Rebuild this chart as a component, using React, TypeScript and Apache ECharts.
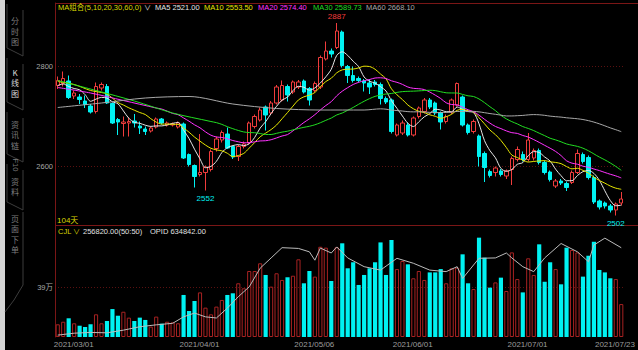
import React, { useEffect, useRef } from "react";
import * as echarts from "echarts";

// ---------- categories (trading days) ----------
const MONTH_DAYS: [string, number[]][] = [
  ["03", [1, 2, 3, 4, 5, 8, 9, 10, 11, 12, 15, 16, 17, 18, 19, 22, 23, 24, 25, 26, 29, 30, 31]],
  ["04", [1, 2, 6, 7, 8, 9, 12, 13, 14, 15, 16, 19, 20, 21, 22, 23, 26, 27, 28, 29, 30]],
  ["05", [6, 7, 10, 11, 12, 13, 14, 17, 18, 19, 20, 21, 24, 25, 26, 27, 28, 31]],
  ["06", [1, 2, 3, 4, 7, 8, 9, 10, 11, 15, 16, 17, 18, 21, 22, 23, 24, 25, 28, 29, 30]],
  ["07", [1, 2, 5, 6, 7, 8, 9, 12, 13, 14, 15, 16, 19, 20, 21, 22, 23, 26, 27, 28, 29]],
];
const DATES: string[] = MONTH_DAYS.flatMap(([m, days]) =>
  days.map((d) => `2021/${m}/${String(d).padStart(2, "0")}`)
);
const DATE_TICKS = ["2021/03/01", "2021/04/01", "2021/05/06", "2021/06/01", "2021/07/01", "2021/07/23"];
const PRICE_TICKS = [2600, 2800];
const VOL_TICKS = [390000];
const VOL_TICK_LABEL = "39万";

// ---------- candles: [open, close, low, high] ----------
const CANDLES: number[][] = [
  [2762, 2772, 2755, 2780], [2766, 2776, 2760, 2790], [2771, 2738, 2735, 2782], [2741, 2747, 2735, 2752],
  [2739, 2734, 2725, 2745], [2731, 2724, 2717, 2742], [2721, 2709, 2706, 2725], [2710, 2760, 2706, 2768],
  [2757, 2764, 2752, 2768], [2760, 2727, 2725, 2765], [2726, 2687, 2685, 2728], [2694, 2689, 2663, 2697],
  [2686, 2689, 2660, 2700], [2687, 2690, 2660, 2698], [2691, 2687, 2678, 2705], [2681, 2677, 2665, 2690],
  [2675, 2670, 2663, 2680], [2671, 2677, 2668, 2680], [2679, 2695, 2676, 2698], [2695, 2687, 2684, 2697],
  [2683, 2687, 2680, 2690], [2683, 2685, 2680, 2688], [2679, 2687, 2676, 2690], [2685, 2617, 2615, 2688],
  [2624, 2604, 2600, 2626], [2602, 2580, 2558, 2604], [2584, 2588, 2580, 2665], [2588, 2599, 2552, 2602],
  [2594, 2630, 2590, 2634], [2636, 2655, 2630, 2660], [2653, 2668, 2648, 2672], [2665, 2637, 2635, 2678],
  [2640, 2619, 2615, 2642], [2620, 2640, 2611, 2643], [2640, 2645, 2636, 2650], [2647, 2687, 2644, 2690],
  [2680, 2700, 2676, 2704], [2693, 2713, 2690, 2718], [2719, 2703, 2672, 2722], [2707, 2727, 2703, 2731],
  [2727, 2759, 2724, 2763], [2733, 2762, 2730, 2772], [2760, 2743, 2730, 2764], [2749, 2769, 2745, 2772],
  [2759, 2769, 2755, 2773], [2771, 2749, 2746, 2774], [2756, 2733, 2722, 2759], [2752, 2766, 2748, 2770],
  [2759, 2818, 2755, 2822], [2815, 2831, 2812, 2850], [2831, 2825, 2818, 2836], [2838, 2871, 2835, 2887],
  [2869, 2802, 2798, 2872], [2800, 2782, 2767, 2803], [2782, 2772, 2768, 2800], [2776, 2772, 2768, 2780],
  [2771, 2767, 2750, 2775], [2767, 2759, 2745, 2775], [2769, 2764, 2760, 2773], [2764, 2736, 2724, 2768],
  [2736, 2729, 2725, 2740], [2733, 2670, 2666, 2736], [2663, 2683, 2660, 2686], [2667, 2687, 2663, 2692],
  [2683, 2663, 2660, 2688], [2663, 2697, 2660, 2700], [2700, 2717, 2696, 2720], [2710, 2733, 2706, 2737],
  [2733, 2719, 2715, 2737], [2727, 2707, 2703, 2730], [2707, 2689, 2674, 2710], [2690, 2700, 2686, 2704],
  [2709, 2733, 2705, 2736], [2723, 2766, 2720, 2768], [2739, 2683, 2680, 2742], [2683, 2668, 2664, 2686],
  [2670, 2690, 2666, 2694], [2661, 2620, 2600, 2664], [2626, 2598, 2569, 2630], [2590, 2582, 2578, 2594],
  [2588, 2597, 2580, 2600], [2591, 2584, 2580, 2595], [2581, 2591, 2575, 2594], [2594, 2616, 2563, 2620],
  [2614, 2634, 2610, 2640], [2624, 2614, 2610, 2630], [2614, 2653, 2610, 2667], [2617, 2632, 2612, 2636],
  [2632, 2608, 2604, 2636], [2608, 2588, 2584, 2612], [2589, 2574, 2570, 2592], [2561, 2571, 2557, 2575],
  [2571, 2567, 2563, 2575], [2566, 2558, 2551, 2570], [2568, 2588, 2565, 2592], [2588, 2626, 2585, 2634],
  [2624, 2610, 2606, 2628], [2618, 2578, 2574, 2622], [2578, 2529, 2525, 2582], [2531, 2519, 2514, 2534],
  [2527, 2521, 2516, 2530], [2521, 2513, 2508, 2525], [2513, 2525, 2502, 2528], [2527, 2535, 2522, 2549],
];

// ---------- volume (CJL) ----------
const VOLUME: number[] = [
  99000, 119000, 146000, 107000, 88000, 78000, 99000, 177000, 107000, 125000,
  218000, 166000, 197000, 151000, 125000, 151000, 133000, 81000, 159000, 104000,
  119000, 114000, 107000, 328000, 203000, 281000, 348000, 229000, 177000, 237000,
  289000, 328000, 341000, 419000, 380000, 515000, 515000, 575000, 484000, 393000,
  497000, 445000, 466000, 478000, 606000, 419000, 515000, 471000, 704000, 697000,
  437000, 700000, 731000, 536000, 583000, 406000, 484000, 536000, 583000, 738000,
  484000, 757000, 530000, 593000, 567000, 458000, 515000, 445000, 504000, 504000,
  530000, 419000, 536000, 541000, 645000, 419000, 374000, 775000, 619000, 385000,
  426000, 463000, 359000, 660000, 452000, 348000, 614000, 484000, 723000, 431000,
  583000, 530000, 411000, 697000, 679000, 660000, 471000, 634000, 743000, 523000,
  504000, 458000, 452000, 256820,
];

// ---------- open interest (OPID), read at sampled days ----------
const OPID_POINTS: number[][] = [
  [0, 405000], [3, 410000], [6, 412000], [9, 411000], [12, 418000], [15, 427000], [18, 432000],
  [21, 436000], [23, 453000], [25, 463000], [27, 453000], [29, 450000], [31, 476000], [33, 506000],
  [35, 532000], [37, 581000], [39, 608000], [41, 635000], [44, 633000], [46, 624000], [47, 602000],
  [48, 634000], [50, 621000], [51, 637000], [53, 608000], [56, 585000], [59, 576000], [62, 607000],
  [65, 594000], [68, 576000], [71, 572000], [73, 585000], [74, 554000], [77, 607000], [80, 608000],
  [82, 621000], [83, 608000], [85, 585000], [87, 572000], [89, 608000], [92, 646000], [95, 624000],
  [97, 598000], [98, 642000], [100, 660000], [103, 634842],
];

// ---------- moving averages: values read before enough history exists ----------
const MA5_EARLY: number[][] = [[0, 2762], [1, 2765], [2, 2760], [3, 2756]];
const MA10_EARLY: number[][] = [[0, 2770], [3, 2764], [6, 2752], [8, 2748]];
const MA20_EARLY: number[][] = [[0, 2758], [6, 2747], [12, 2732], [18, 2717]];
const MA30_EARLY: number[][] = [[0, 2772], [7, 2752], [14, 2731], [21, 2707], [28, 2690]];
const MA60_EARLY: number[][] = [[0, 2718], [8, 2727], [16, 2737], [24, 2740], [32, 2725], [40, 2716], [48, 2713], [56, 2713]];

const MA_LEGEND = [
  { name: "MA5", value: "2521.00", color: "#e6e6e6", period: 5, early: MA5_EARLY },
  { name: "MA10", value: "2553.50", color: "#e6e600", period: 10, early: MA10_EARLY },
  { name: "MA20", value: "2574.40", color: "#ff33ff", period: 20, early: MA20_EARLY },
  { name: "MA30", value: "2589.73", color: "#22dd22", period: 30, early: MA30_EARLY },
  { name: "MA60", value: "2668.10", color: "#a8a8a8", period: 60, early: MA60_EARLY },
];
const MA_GROUP_TEXT = "MA组合(5,10,20,30,60,0)";
const DAYS_TEXT = "104天";
const CJL_VALUE = "256820.00(50:50)";
const OPID_TEXT = "OPID 634842.00";
const EXTREMES = [
  { idx: 51, kind: "high" },
  { idx: 27, kind: "low" },
  { idx: 102, kind: "low" },
];
const TABS = [
  { lead: "", chars: "分\n时\n图", active: false },
  { lead: "", chars: "K\n线\n图", active: true },
  { lead: "", chars: "资\n讯\n链", active: false },
  { lead: "F10", chars: "资\n料", active: false },
  { lead: "", chars: "页\n面\n下\n单", active: false },
];

// ---------- style ----------
const FONT = "'Liberation Sans', Arial, 'Noto Sans CJK SC', sans-serif";
const CJK = "'Noto Sans CJK SC', sans-serif";
const RED = "#f03c3c";
const VOL_RED = "#a82222";
const CYAN = "#00f2f2";
const BORDER = "#7a1616";
const GRIDLINE = "#5a1010";
const YELLOW = "#d8d800";
const WHITE = "#e0e0e0";

function maData(period: number, early: number[][]): number[][] {
  const closes = CANDLES.map((c) => c[1]);
  const out: number[][] = early.slice();
  for (let i = period - 1; i < closes.length; i++) {
    let s = 0;
    for (let k = i - period + 1; k <= i; k++) s += closes[k];
    out.push([i, +(s / period).toFixed(2)]);
  }
  return out;
}

export default function App() {
  const ref = useRef<HTMLDivElement>(null);
  useEffect(() => {
    if (!ref.current) return;
    document.body.style.margin = "0";
    const chart = echarts.init(ref.current, null, { renderer: "svg" });

    const headerX = [58, 144, 155, 204, 258, 313, 366];
    const graphic: any[] = [
      { type: "rect", shape: { x: 0, y: 0, width: 5, height: 350 }, style: { fill: "#d4d4d4" }, silent: true },
      { type: "line", shape: { x1: 55, y1: 3.5, x2: 638, y2: 3.5 }, style: { stroke: BORDER, lineWidth: 1 } },
      { type: "line", shape: { x1: 55, y1: 225.5, x2: 638, y2: 225.5 }, style: { stroke: BORDER, lineWidth: 1 } },
      { type: "text", x: headerX[0], y: 7, style: { text: MA_GROUP_TEXT, fill: YELLOW, font: `7.5px ${FONT}`, textVerticalAlign: "middle" } },
      { type: "text", x: headerX[1], y: 7, style: { text: "∨", fill: WHITE, font: `7px ${FONT}`, textVerticalAlign: "middle" } },
      ...MA_LEGEND.map((m, k) => ({
        type: "text", x: headerX[k + 2], y: 7,
        style: { text: `${m.name} ${m.value}`, fill: m.color, font: `7.5px ${FONT}`, textVerticalAlign: "middle" },
      })),
      { type: "text", x: 57, y: 220, style: { text: DAYS_TEXT, fill: YELLOW, font: `8px ${FONT}`, textVerticalAlign: "middle" } },
      { type: "text", x: 58, y: 231, style: { text: "CJL", fill: YELLOW, font: `7.5px ${FONT}`, textVerticalAlign: "middle" } },
      { type: "text", x: 73, y: 231, style: { text: "∨", fill: YELLOW, font: `7px ${FONT}`, textVerticalAlign: "middle" } },
      { type: "text", x: 83, y: 231, style: { text: CJL_VALUE, fill: WHITE, font: `7.5px ${FONT}`, textVerticalAlign: "middle" } },
      { type: "text", x: 150, y: 231, style: { text: OPID_TEXT, fill: WHITE, font: `7.5px ${FONT}`, textVerticalAlign: "middle" } },
    ];

    // sidebar tabs
    const tabTops = [4, 58, 112, 164, 212];
    const tabBottoms = [56, 110, 162, 210, 300];
    const textTops = [15.5, 67, 119, 176, 213];
    TABS.forEach((t, k) => {
      const top = tabTops[k];
      const bot = tabBottoms[k];
      const pts = k === 4
        ? [[23, top], [23, 285], [14, 300], [5, 312]]
        : [[7, top], [7, bot - 8], [23, bot], [23, top + 6]];
      graphic.push({ type: "polyline", shape: { points: pts }, style: { stroke: "#3c3c3c", lineWidth: 1, fill: "none" } });
      const fill = t.active ? "#d8d8d8" : "#7c7c7c";
      if (t.lead) {
        graphic.push({
          type: "text", x: 15, y: 165, rotation: -Math.PI / 2,
          style: { text: t.lead, fill, font: `7.5px ${FONT}`, textAlign: "center", textVerticalAlign: "middle" },
        });
      }
      graphic.push({
        type: "text", x: 15, y: textTops[k],
        style: {
          text: t.chars, fill, font: `8px ${CJK}`, lineHeight: 10.4,
          textAlign: "center", textVerticalAlign: "top",
        },
      });
    });

    const volData = VOLUME.map((v, i) => {
      const up = CANDLES[i][1] >= CANDLES[i][0];
      return {
        value: v,
        itemStyle: up
          ? { color: "rgba(0,0,0,0)", borderColor: VOL_RED, borderWidth: 1 }
          : { color: CYAN, borderColor: CYAN, borderWidth: 0 },
      };
    });

    const markData = EXTREMES.map((e) => {
      const c = CANDLES[e.idx];
      const high = e.kind === "high";
      const v = high ? c[3] : c[2];
      return {
        coord: [DATES[e.idx], v],
        value: v,
        label: { position: high ? "top" : "bottom", color: high ? RED : CYAN, distance: high ? 2 : 3 },
      };
    });

    const hiddenCat = {
      type: "category", data: DATES, boundaryGap: true,
      axisLine: { show: false }, axisTick: { show: false }, axisLabel: { show: false }, splitLine: { show: false },
    };

    const option: any = {
      animation: false,
      backgroundColor: "#000",
      graphic,
      grid: [
        { left: 55, top: 3, width: 569, height: 222 },
        { left: 55, top: 226, width: 569, height: 111 },
        { left: 51, top: 226, width: 569, height: 111 },
      ],
      xAxis: [
        { ...hiddenCat, gridIndex: 0 },
        { ...hiddenCat, gridIndex: 1 },
        {
          ...hiddenCat, gridIndex: 2,
          axisLabel: {
            show: true, interval: (_i: number, v: string) => DATE_TICKS.includes(v),
            color: "#9c9c9c", fontSize: 8, fontFamily: FONT, align: "left", margin: 3,
          },
        },
      ],
      yAxis: [
        {
          type: "value", gridIndex: 0, min: 2483, max: 2927,
          axisLine: { show: true, lineStyle: { color: BORDER } },
          axisTick: { show: false, customValues: PRICE_TICKS },
          axisLabel: { customValues: PRICE_TICKS, formatter: (v: number) => String(v), color: "#a8a8a8", fontSize: 7.5, fontFamily: FONT, margin: 2 },
          splitLine: { show: true, lineStyle: { color: GRIDLINE, width: 1, type: [1, 2] } },
        },
        {
          type: "value", gridIndex: 1, min: 0, max: 866000,
          axisLine: { show: true, lineStyle: { color: BORDER } },
          axisTick: { show: false, customValues: VOL_TICKS },
          axisLabel: { customValues: VOL_TICKS, formatter: () => VOL_TICK_LABEL, color: "#a8a8a8", fontSize: 7.5, fontFamily: FONT, margin: 2 },
          splitLine: { show: true, lineStyle: { color: GRIDLINE, width: 1, type: [1, 2] } },
        },
        { type: "value", gridIndex: 1, min: 400000, max: 692000, show: false, splitLine: { show: false } },
        { type: "value", gridIndex: 2, min: 0, max: 1, show: false, splitLine: { show: false } },
      ],
      series: [
        {
          type: "candlestick", xAxisIndex: 0, yAxisIndex: 0, data: CANDLES, barWidth: "72%",
          itemStyle: { color: "rgba(0,0,0,0)", color0: CYAN, borderColor: RED, borderColor0: CYAN, borderWidth: 1 },
          markPoint: {
            symbol: "rect", symbolSize: 1, itemStyle: { color: "rgba(0,0,0,0)" },
            label: { show: true, fontSize: 8, fontFamily: FONT, formatter: (p: any) => String(p.value) },
            data: markData,
          },
          z: 2,
        },
        ...MA_LEGEND.map((m) => ({
          type: "line", name: m.name, xAxisIndex: 0, yAxisIndex: 0, data: maData(m.period, m.early),
          symbol: "none", smooth: 0.3, connectNulls: true, lineStyle: { width: 1, color: m.color }, z: 3,
        })),
        { type: "bar", xAxisIndex: 1, yAxisIndex: 1, data: volData, barWidth: "76%", z: 2 },
        {
          type: "line", xAxisIndex: 1, yAxisIndex: 2, data: OPID_POINTS, symbol: "none",
          lineStyle: { width: 1, color: "#bcbcbc" }, z: 3,
        },
        { type: "line", xAxisIndex: 2, yAxisIndex: 3, data: [], symbol: "none" },
      ],
    };
    chart.setOption(option);
    return () => chart.dispose();
  }, []);
  return <div ref={ref} style={{ position: "fixed", left: 0, top: 0, width: 638, height: 350, background: "#000" }} />;
}
